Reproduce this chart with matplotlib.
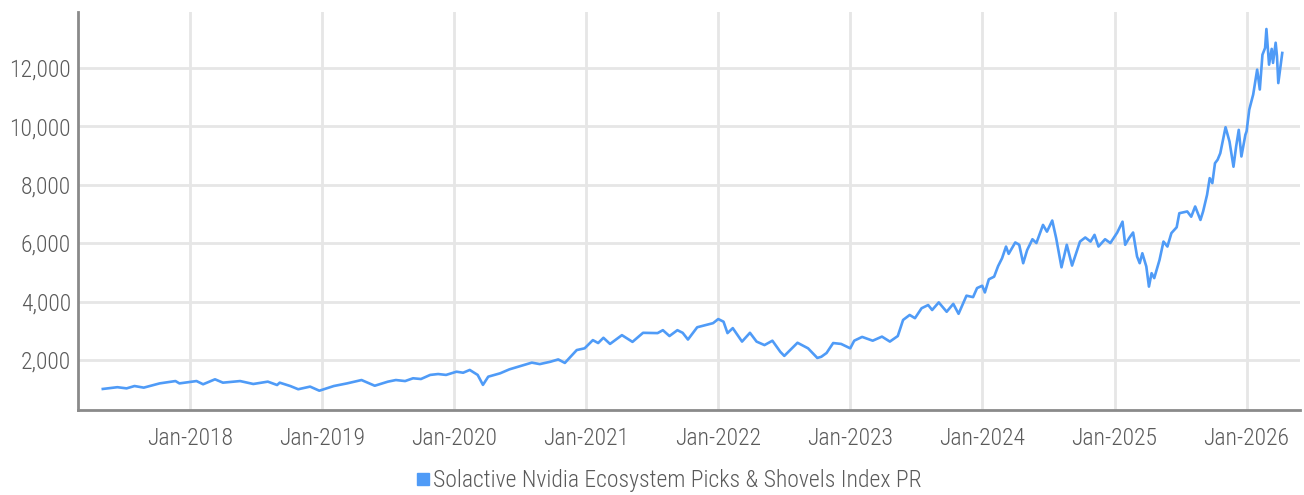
import datetime as dt
import matplotlib
matplotlib.use("Agg")
import matplotlib.pyplot as plt
import matplotlib.dates as mdates
from matplotlib.ticker import FuncFormatter
from matplotlib.lines import Line2D

plt.rcParams['font.family'] = ['Roboto Condensed', 'Liberation Sans Narrow', 'DejaVu Sans']
plt.rcParams['font.weight'] = 'light'

series_name = "Solactive Nvidia Ecosystem Picks & Shovels Index PR"

# decimal year, index level
years = [
    2017.34, 2017.45, 2017.52, 2017.58, 2017.65, 2017.77, 2017.89, 2017.92,
    2018.05, 2018.10, 2018.19, 2018.25, 2018.38, 2018.48, 2018.59, 2018.66,
    2018.68, 2018.76, 2018.82, 2018.91, 2018.98, 2019.09, 2019.19, 2019.30,
    2019.40, 2019.50, 2019.56, 2019.63, 2019.69, 2019.75, 2019.82, 2019.88,
    2019.94, 2020.02, 2020.07, 2020.12, 2020.18, 2020.22, 2020.26, 2020.35,
    2020.42, 2020.50, 2020.59, 2020.65, 2020.73, 2020.79, 2020.84, 2020.93,
    2020.99, 2021.05, 2021.09, 2021.13, 2021.18, 2021.27, 2021.35, 2021.43,
    2021.54, 2021.58, 2021.63, 2021.69, 2021.73, 2021.77, 2021.84, 2021.91,
    2021.96, 2022.00, 2022.04, 2022.07, 2022.11, 2022.18, 2022.24, 2022.29,
    2022.35, 2022.41, 2022.47, 2022.50, 2022.60, 2022.68, 2022.75, 2022.78,
    2022.82, 2022.87, 2022.93, 2023.00, 2023.03, 2023.09, 2023.17, 2023.24,
    2023.30, 2023.36, 2023.40, 2023.45, 2023.49, 2023.54, 2023.59, 2023.62,
    2023.67, 2023.73, 2023.78, 2023.82, 2023.88, 2023.93, 2023.96, 2024.00,
    2024.02, 2024.05, 2024.09, 2024.12, 2024.15, 2024.18, 2024.20, 2024.25,
    2024.28, 2024.31, 2024.34, 2024.38, 2024.41, 2024.46, 2024.49, 2024.53,
    2024.56, 2024.60, 2024.64, 2024.68, 2024.74, 2024.78, 2024.82, 2024.85,
    2024.88, 2024.93, 2024.97, 2025.02, 2025.06, 2025.08, 2025.11, 2025.14,
    2025.17, 2025.19, 2025.21, 2025.24, 2025.26, 2025.28, 2025.30, 2025.34,
    2025.37, 2025.40, 2025.43, 2025.47, 2025.49, 2025.55, 2025.58, 2025.61,
    2025.65, 2025.67, 2025.70, 2025.72, 2025.74, 2025.76, 2025.78, 2025.80,
    2025.84, 2025.87, 2025.90, 2025.92, 2025.94, 2025.96, 2025.99, 2026.00,
    2026.02, 2026.05, 2026.08, 2026.10, 2026.12, 2026.14, 2026.15, 2026.17,
    2026.19, 2026.20, 2026.22, 2026.23, 2026.24, 2026.27,
]
levels = [
    1010, 1070, 1030, 1110, 1055, 1200, 1280, 1200,
    1280, 1170, 1340, 1225, 1280, 1180, 1260, 1145,
    1225, 1110, 1000, 1090, 950, 1110, 1200, 1315,
    1120, 1260, 1315, 1280, 1375, 1350, 1490, 1520,
    1490, 1600, 1565, 1660, 1490, 1150, 1430, 1545,
    1680, 1790, 1910, 1860, 1940, 2020, 1900, 2340,
    2400, 2680, 2580, 2760, 2550, 2850, 2620, 2930,
    2920, 3020, 2820, 3020, 2930, 2700, 3120, 3200,
    3260, 3400, 3310, 2920, 3090, 2630, 2930, 2630,
    2510, 2660, 2280, 2140, 2590, 2400, 2070, 2110,
    2240, 2580, 2550, 2400, 2660, 2790, 2660, 2800,
    2630, 2820, 3370, 3540, 3430, 3770, 3880, 3710,
    3970, 3650, 3920, 3580, 4200, 4150, 4460, 4540,
    4310, 4760, 4850, 5210, 5480, 5880, 5630, 6020,
    5940, 5310, 5760, 6130, 6000, 6620, 6390, 6770,
    6160, 5170, 5940, 5230, 6050, 6190, 6050, 6280,
    5880, 6130, 6000, 6360, 6730, 5940, 6170, 6360,
    5540, 5310, 5650, 5200, 4510, 4970, 4800, 5420,
    6050, 5880, 6340, 6540, 7020, 7080, 6900, 7250,
    6790, 7080, 7650, 8220, 8050, 8730, 8850, 9070,
    9960, 9470, 8610, 9300, 9870, 8960, 9700, 9820,
    10560, 11080, 11930, 11250, 12440, 12670, 13320, 12100,
    12640, 12160, 12850, 12390, 11470, 12500,
]

year_ticks = [2018, 2019, 2020, 2021, 2022, 2023, 2024, 2025, 2026]
y_ticks = [2000, 4000, 6000, 8000, 10000, 12000]


def to_date(y):
    base = dt.datetime(int(y), 1, 1)
    return base + dt.timedelta(days=(y - int(y)) * 365.25)


dates = [to_date(y) for y in years]

line_color = '#4f9bf7'
text_color = '#5a5a5a'

fig = plt.figure(figsize=(13.04, 4.95), dpi=100)
ax = fig.add_axes([0.0598, 0.1717, 0.937, 0.804])

ax.plot(dates, levels, color=line_color, linewidth=1.9, solid_joinstyle='round')

ax.set_xlim(to_date(2017.152), to_date(2026.403))
ax.set_ylim(290, 13900)

ax.set_xticks([dt.datetime(y, 1, 1) for y in year_ticks])
ax.xaxis.set_major_formatter(mdates.DateFormatter('%b-%Y'))
ax.set_yticks(y_ticks)
ax.yaxis.set_major_formatter(FuncFormatter(lambda v, p: f"{int(v):,}"))

ax.grid(True, color='#e6e6e6', linewidth=2)
ax.set_axisbelow(True)
ax.tick_params(axis='both', length=0, labelsize=17, labelcolor=text_color)
ax.tick_params(axis='x', pad=12)
ax.tick_params(axis='y', pad=5)

for side in ['top', 'right']:
    ax.spines[side].set_visible(False)
for side in ['left', 'bottom']:
    ax.spines[side].set_color('#8a8a8a')
    ax.spines[side].set_linewidth(2)

handle = Line2D([], [], marker='s', linestyle='none', color=line_color, markersize=8)
fig.legend([handle], [series_name], loc='center', bbox_to_anchor=(668 / 1304, 1 - 481 / 495),
           frameon=False, fontsize=17, labelcolor=text_color, handletextpad=0.05,
           handlelength=0.7)

fig.savefig('out.png', dpi=100)
